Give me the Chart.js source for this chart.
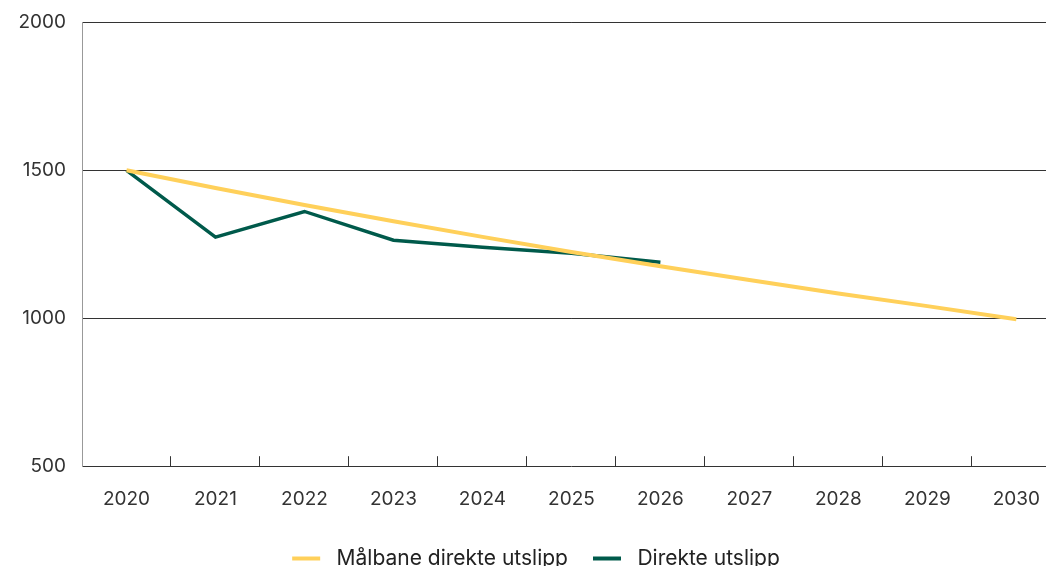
<!DOCTYPE html>
<html>
<head>
<meta charset="utf-8">
<script src="https://cdn.jsdelivr.net/npm/chart.js@4"></script>
<style>
  html, body { margin: 0; padding: 0; background: #fff; overflow: hidden; }
  #wrap { position: absolute; left: 0; top: -5px; width: 1072px; height: 584px; }
</style>
</head>
<body>
<div id="wrap"><canvas id="chart"></canvas></div>
<script>
const years = ["2020", "2021", "2022", "2023", "2024", "2025", "2026", "2027", "2028", "2029", "2030"]
const malbane = [1500, 1440, 1383, 1328, 1275, 1224, 1176, 1129, 1084, 1041, 997]
const direkte = [1500, 1274, 1361, 1264, 1240, 1220, 1189, null, null, null, null]
const yTicks = [500, 1000, 1500, 2000]

const font = "Inter, 'Noto Sans', sans-serif"
const yellow = "#ffd05a"
const green = "#005a4b"

new Chart(document.getElementById("chart"), {
  type: "line",
  data: {
    labels: years,
    datasets: [
      {
        label: "Målbane direkte utslipp",
        data: malbane,
        borderColor: yellow,
        backgroundColor: yellow,
        borderWidth: 4,
        pointRadius: 0,
        tension: 0
      },
      {
        label: "Direkte utslipp",
        data: direkte,
        borderColor: green,
        backgroundColor: green,
        borderWidth: 3.5,
        pointRadius: 0,
        tension: 0
      }
    ]
  },
  options: {
    responsive: true,
    maintainAspectRatio: false,
    animation: false,
    layout: { padding: { top: 12, right: 0, left: 0, bottom: 0 } },
    plugins: {
      tooltip: { enabled: false },
      legend: {
        position: "bottom",
        labels: {
          font: { family: font, size: 21 },
          color: "#222",
          boxWidth: 28,
          boxHeight: 4,
          padding: 25,
          generateLabels: chart => {
            const items = Chart.defaults.plugins.legend.labels.generateLabels(chart)
            items.forEach(item => {
              item.text = " " + item.text
              item.lineWidth = 0
            })
            return items
          }
        }
      }
    },
    scales: {
      x: {
        offset: true,
        afterFit: scale => { scale.height -= 20 },
        grid: {
          offset: true,
          drawOnChartArea: false,
          drawTicks: true,
          tickLength: -10,
          color: "#333"
        },
        border: { color: "#333", width: 1 },
        ticks: {
          font: { family: font, size: 19 },
          color: "#333",
          padding: 32
        }
      },
      y: {
        min: 500,
        max: 2000,
        afterBuildTicks: scale => {
          scale.ticks = yTicks.map(v => ({ value: v }))
        },
        afterFit: scale => { scale.width = 82 },
        grid: {
          drawTicks: false,
          color: ctx => ctx.tick && ctx.tick.value === 500 ? "rgba(0,0,0,0)" : "#333"
        },
        border: { color: "#999", width: 1 },
        ticks: {
          font: { family: font, size: 19 },
          color: "#333",
          padding: 16,
          callback: v => String(v)
        }
      }
    }
  }
})
</script>
</body>
</html>
